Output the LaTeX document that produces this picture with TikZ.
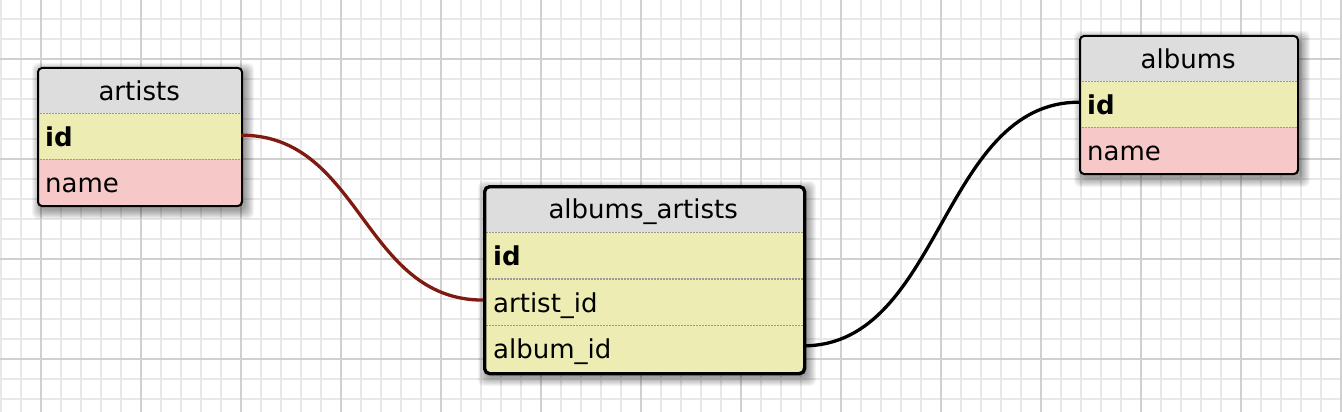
\documentclass[tikz,border=0pt]{standalone}
\usepackage{fontspec}
\setmainfont{DejaVu Sans}
\definecolor{gridminor}{HTML}{E8E8E8}
\definecolor{gridmajor}{HTML}{D0D0D0}
\definecolor{headgray}{HTML}{DDDDDD}
\definecolor{idyellow}{HTML}{EDECB2}
\definecolor{namepink}{HTML}{F6C9C8}
\definecolor{sepgray}{HTML}{999999}
\definecolor{fkred}{HTML}{7E1A10}
\newcommand\tblshadow[4]{%
  \foreach \s in {0,...,9}{%
    \fill[black, opacity=0.045, rounded corners=6pt]
      ({#1+4-\s*1.0},{#2+5-\s*1.0}) rectangle ({#3+4+\s*1.0},{#4+5+\s*1.0});}}
\tikzset{
  cell/.style={inner xsep=8pt, inner ysep=0pt, minimum height=46pt,
    text height=22pt, text depth=2pt, anchor=north west, align=left,
    font=\fontsize{26}{31}\selectfont},
  headcell/.style={cell, fill=headgray, align=center},
  sep/.style={draw=sepgray, line width=1.3pt, dash pattern=on 1.5pt off 1.5pt},
  tblborder/.style={draw=black, line width=2pt, rounded corners=4pt, inner sep=0pt, anchor=north west},
  conn/.style={line width=3.3pt}
}
\begin{document}
\begin{tikzpicture}[x=1pt, y=-1pt]
\useasboundingbox (0,0) rectangle (1342,412);
\fill[white] (0,0) rectangle (1342,412);
% grid
\foreach \x in {1,21,...,1341} \draw[gridminor, line width=1.5pt] (\x,0) -- (\x,412);
\foreach \y in {19,39,...,399} \draw[gridminor, line width=1.5pt] (0,\y) -- (1342,\y);
\foreach \x in {41,141,...,1341} \draw[gridmajor, line width=2pt] (\x,0) -- (\x,412);
\foreach \y in {59,159,259,359} \draw[gridmajor, line width=2pt] (0,\y) -- (1342,\y);

% ---------- artists ----------
\tblshadow{37}{67}{241}{205}
\begin{scope}
\clip[rounded corners=4pt] (37,67) rectangle (241,205);
\node[headcell, text width=188pt, minimum width=204pt] (artists-h) at (37,67) {artists};
\node[cell, fill=idyellow, text width=188pt, minimum width=204pt] (artists-id) at (37,113) {\textbf{id}};
\node[cell, fill=namepink, text width=188pt, minimum width=204pt] (artists-name) at (37,159) {name};
\draw[sep] (artists-h.south west) -- (artists-h.south east);
\draw[sep] (artists-id.south west) -- (artists-id.south east);
\end{scope}
\node[tblborder, minimum width=204pt, minimum height=138pt] (artists) at (37,67) {};

% ---------- albums ----------
\tblshadow{1079}{35}{1297}{173}
\begin{scope}
\clip[rounded corners=4pt] (1079,35) rectangle (1297,173);
\node[headcell, text width=202pt, minimum width=218pt] (albums-h) at (1079,35) {albums};
\node[cell, fill=idyellow, text width=202pt, minimum width=218pt] (albums-id) at (1079,81) {\textbf{id}};
\node[cell, fill=namepink, text width=202pt, minimum width=218pt] (albums-name) at (1079,127) {name};
\draw[sep] (albums-h.south west) -- (albums-h.south east);
\draw[sep] (albums-id.south west) -- (albums-id.south east);
\end{scope}
\node[tblborder, minimum width=218pt, minimum height=138pt] (albums) at (1079,35) {};

% ---------- albums_artists ----------
\tblshadow{483}{185}{803}{372}
\begin{scope}
\clip[rounded corners=5pt] (483,185) rectangle (803,372);
\node[headcell, text width=300pt, inner xsep=10pt, minimum width=320pt, minimum height=46.75pt] (aa-h) at (483,185) {albums\_artists};
\node[cell, fill=idyellow, text width=300pt, inner xsep=10pt, minimum width=320pt, minimum height=46.75pt] (aa-id) at (483,231.75) {\textbf{id}};
\node[cell, fill=idyellow, text width=300pt, inner xsep=10pt, minimum width=320pt, minimum height=46.75pt] (aa-artist) at (483,278.5) {artist\_id};
\node[cell, fill=idyellow, text width=300pt, inner xsep=10pt, minimum width=320pt, minimum height=46.75pt] (aa-album) at (483,325.25) {album\_id};
\draw[sep] (aa-h.south west) -- (aa-h.south east);
\draw[sep] (aa-id.south west) -- (aa-id.south east);
\draw[sep] (aa-artist.south west) -- (aa-artist.south east);
\end{scope}
\node[tblborder, line width=3.3pt, rounded corners=5pt, minimum width=320pt, minimum height=187pt] (aa) at (483,185) {};

% ---------- connectors ----------
\draw[conn, fkred] ([yshift=1pt]artists-id.east) .. controls +(120,0) and +(-120,0) .. ([yshift=2pt]aa-artist.west);
\draw[conn, black] ([yshift=3pt]aa-album.east) .. controls +(138,0) and +(-138,0) .. ([yshift=2pt]albums-id.west);
\end{tikzpicture}
\end{document}
